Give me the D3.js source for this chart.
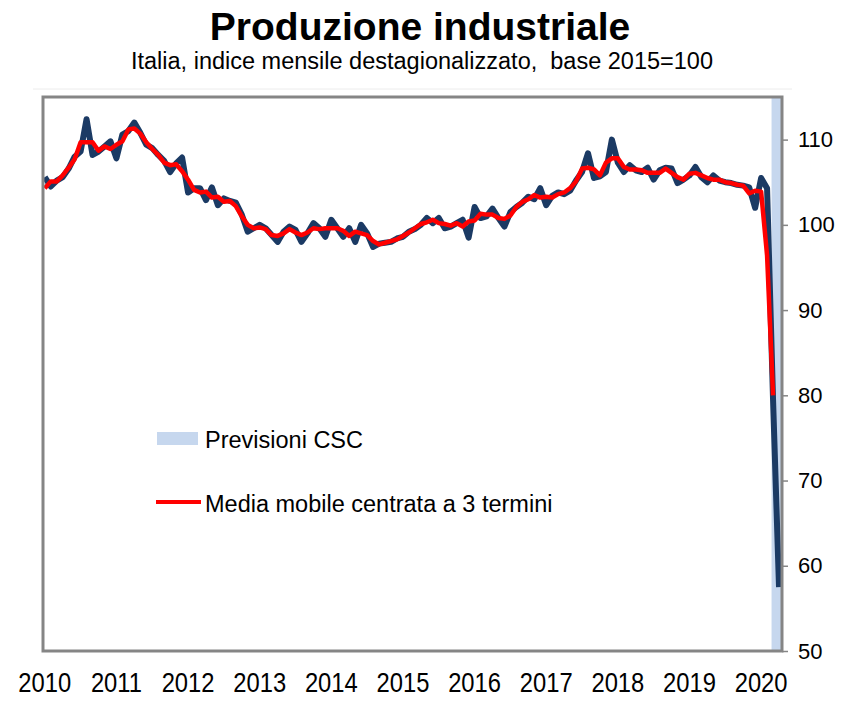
<!DOCTYPE html>
<html>
<head>
<meta charset="utf-8">
<script src="https://cdn.jsdelivr.net/npm/d3@7"></script>
<style>
  html, body { margin: 0; padding: 0; background: #ffffff; }
  svg { display: block; }
</style>
</head>
<body>
<svg id="chart" width="850" height="702"></svg>
<script>
// ---- data ----
const yearLabels = ["2010","2011","2012","2013","2014","2015","2016","2017","2018","2019","2020"];
const yTicks = [50, 60, 70, 80, 90, 100, 110];
// monthly index, Jan 2010 .. Apr 2020
const production = [
  105.6,104.5,105.2,105.6,106.6,108.0,108.6,112.4,108.2,108.6,109.2,109.8,
  107.8,110.6,111.0,112.0,110.8,109.4,109.0,108.2,107.5,106.2,107.2,107.9,
  103.8,104.3,104.3,102.9,104.4,102.3,103.1,102.8,102.6,101.2,99.2,99.6,
  100.0,99.6,98.8,98.0,99.2,99.8,99.4,98.0,99.0,100.2,99.6,98.6,
  100.6,99.6,98.6,99.6,98.0,100.0,99.0,97.4,97.8,97.9,98.0,98.4,
  98.6,99.2,99.5,100.0,100.8,100.2,100.8,99.6,99.8,100.2,100.6,98.5,
  102.1,100.8,101.0,101.9,100.8,99.8,101.5,102.1,102.6,103.3,103.0,104.3,
  102.3,103.4,103.8,103.6,104.0,105.2,106.2,108.4,105.5,105.7,106.2,110.0,
  107.3,106.2,107.0,106.4,106.2,106.7,105.3,106.4,106.7,106.6,104.9,105.3,
  105.8,106.8,105.6,105.0,105.8,105.2,105.0,104.9,104.7,104.6,104.4,102.0,
  105.5,104.3,79.5,57.5
];
// 3-term centered moving average, Jan 2010 .. Mar 2020
const movingAverage = [
  104.3,105.1,105.1,105.8,106.7,107.7,109.7,109.7,109.7,108.7,109.2,108.9,
  109.4,109.8,111.2,111.3,110.7,109.7,108.9,108.2,107.3,107.0,107.1,106.3,
  105.3,104.1,103.8,103.9,103.2,103.3,102.7,102.8,102.2,101.0,100.0,99.6,
  99.7,99.5,98.8,98.7,99.0,99.5,99.1,98.8,99.1,99.6,99.5,99.6,
  99.6,99.6,99.3,98.7,99.2,99.0,98.8,98.1,97.7,97.9,98.1,98.3,
  98.7,99.1,99.6,100.1,100.3,100.6,100.2,100.1,99.9,100.2,99.8,100.4,
  100.5,101.3,101.2,101.2,100.8,100.7,101.1,102.1,102.7,103.0,103.5,103.2,
  103.3,103.2,103.6,103.8,104.3,105.1,106.6,106.7,106.5,105.8,107.3,107.8,
  107.8,106.8,106.5,106.5,106.4,106.1,106.1,106.1,106.6,106.1,105.6,105.3,
  106.0,106.1,105.8,105.5,105.3,105.3,105.0,104.9,104.7,104.6,103.7,104.0,
  103.9,96.4,80.0
];
const forecastMonths = [122, 123]; // Mar, Apr 2020 (CSC forecasts)
const legendLabels = ["Previsioni CSC", "Media mobile centrata a 3 termini"];

// ---- layout ----
const svg = d3.select("#chart");
const plot = { left: 43, right: 782, top: 97, bottom: 651 };
const font = "'Liberation Sans', Arial, sans-serif";

const x = d3.scaleLinear().domain([-0.3, 123.5]).range([plot.left, plot.right]);
const y = d3.scaleLinear().domain([50, 115]).range([plot.bottom, plot.top]);

// title
svg.append("text").attr("x", 420).attr("y", 40).attr("text-anchor", "middle")
  .attr("font-family", font).attr("font-weight", "bold").attr("font-size", 39)
  .attr("fill", "#000").text("Produzione industriale");
svg.append("text").attr("x", 422).attr("y", 69).attr("text-anchor", "middle")
  .attr("font-family", font).attr("font-size", 23.5)
  .attr("fill", "#000").style("white-space", "pre")
  .text("Italia, indice mensile destagionalizzato,  base 2015=100");

// faint outer line
svg.append("line").attr("x1", plot.left - 10).attr("x2", plot.right + 10)
  .attr("y1", 89).attr("y2", 89).attr("stroke", "#ececec").attr("stroke-width", 1);

// forecast band
const bandStart = x(d3.min(forecastMonths) - 0.25);
svg.append("rect").attr("x", bandStart).attr("y", plot.top)
  .attr("width", plot.right - bandStart).attr("height", plot.bottom - plot.top)
  .attr("fill", "#c6d7ee");

// lines
const lineGen = d3.line().x((d, i) => x(i)).y(d => y(d)).curve(d3.curveLinear);
svg.append("path").datum(production).attr("d", lineGen)
  .attr("fill", "none").attr("stroke", "#1b3a64").attr("stroke-width", 6)
  .attr("stroke-linejoin", "round");
svg.append("path").datum(movingAverage).attr("d", lineGen)
  .attr("fill", "none").attr("stroke", "#ff0000").attr("stroke-width", 4.5)
  .attr("stroke-linejoin", "round");

// frame
svg.append("rect").attr("x", plot.left).attr("y", plot.top)
  .attr("width", plot.right - plot.left).attr("height", plot.bottom - plot.top)
  .attr("fill", "none").attr("stroke", "#858585").attr("stroke-width", 3);

// y axis (right)
const yAxis = svg.append("g").attr("transform", `translate(${plot.right},0)`)
  .call(d3.axisRight(y).tickValues(yTicks).tickSize(6).tickPadding(10));
yAxis.select(".domain").remove();
yAxis.selectAll(".tick line").attr("stroke", "#858585").attr("stroke-width", 1.5);
yAxis.selectAll("text").attr("font-family", font).attr("font-size", 22).attr("fill", "#000");

// x axis (labels only)
const xAxis = svg.append("g").attr("transform", `translate(0,${plot.bottom})`)
  .call(d3.axisBottom(x).tickValues(yearLabels.map((d, i) => i * 12))
    .tickFormat((d, i) => yearLabels[i]).tickSize(0).tickPadding(22));
xAxis.select(".domain").remove();
xAxis.selectAll("text").attr("font-family", font).attr("font-size", 27)
  .attr("transform", "scale(0.88,1)")
  .attr("fill", "#000");
xAxis.selectAll(".tick").each(function(d) {
  d3.select(this).attr("transform", `translate(${x(d)},0)`);
});

// legend
const lg = svg.append("g");
lg.append("rect").attr("x", 157).attr("y", 432).attr("width", 41).attr("height", 13).attr("fill", "#c6d7ee");
lg.append("text").attr("x", 205).attr("y", 448).attr("font-family", font).attr("font-size", 23.5)
  .attr("fill", "#000").text(legendLabels[0]);
lg.append("line").attr("x1", 156).attr("x2", 201).attr("y1", 502).attr("y2", 502)
  .attr("stroke", "#ff0000").attr("stroke-width", 4);
lg.append("text").attr("x", 205).attr("y", 512).attr("font-family", font).attr("font-size", 23.5)
  .attr("fill", "#000").text(legendLabels[1]);
</script>
</body>
</html>
